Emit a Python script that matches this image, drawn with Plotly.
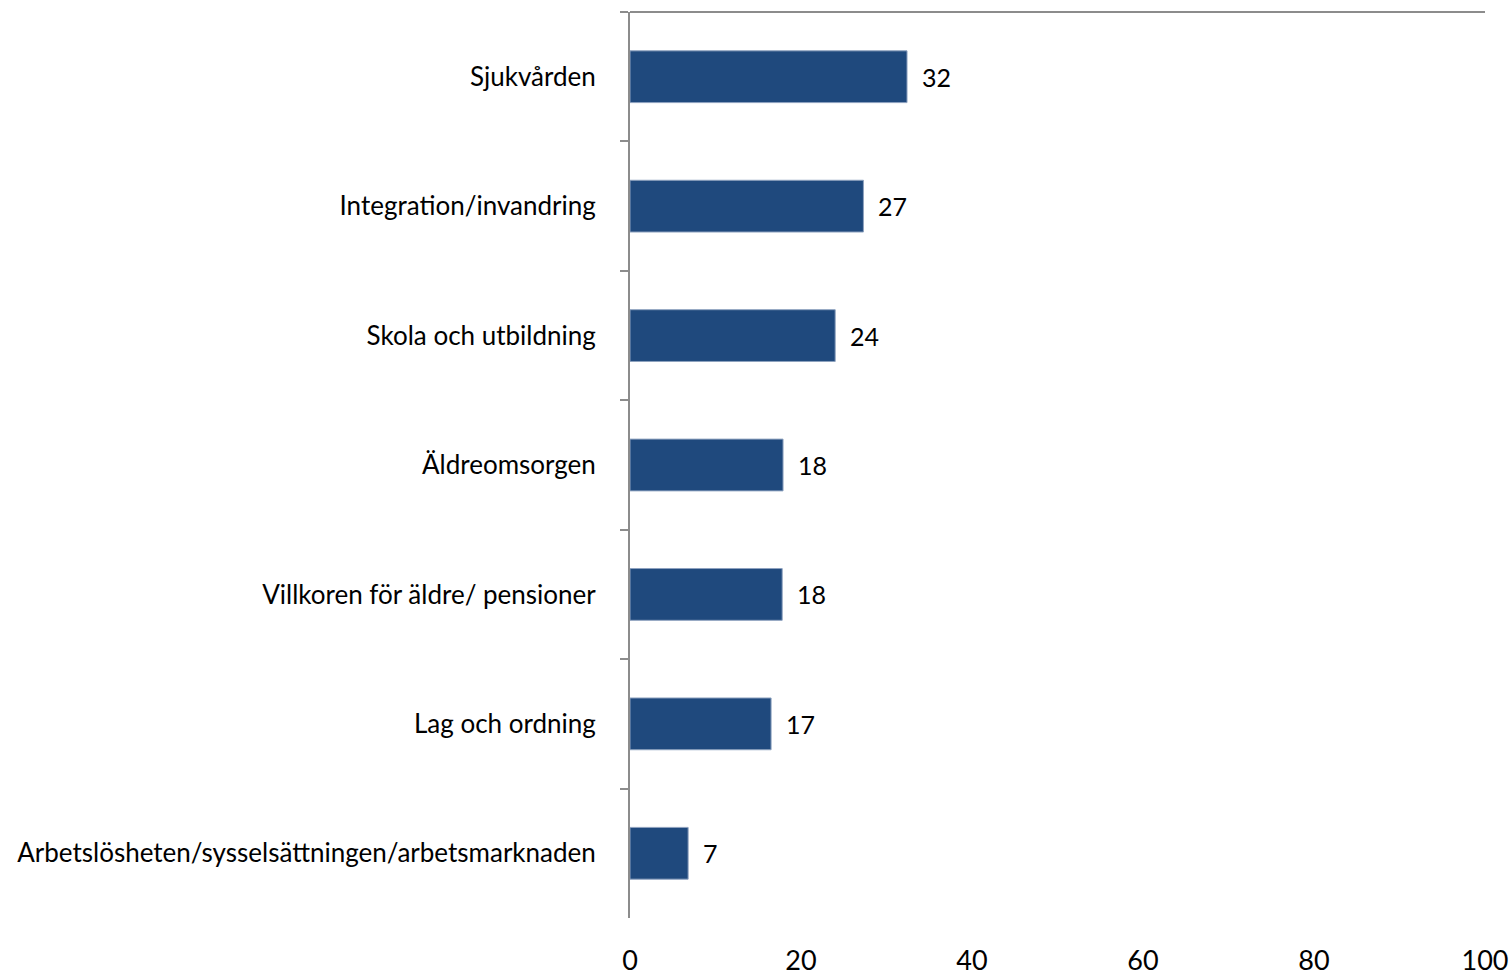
import plotly.graph_objects as go

categories = [
    "Sjukvården",
    "Integration/invandring",
    "Skola och utbildning",
    "Äldreomsorgen",
    "Villkoren för äldre/ pensioner",
    "Lag och ordning",
    "Arbetslösheten/sysselsättningen/arbetsmarknaden",
]
values = [32.4, 27.3, 24.0, 17.9, 17.8, 16.5, 6.8]
value_labels = ["32", "27", "24", "18", "18", "17", "7"]
x_ticks = [0, 20, 40, 60, 80, 100]

FONT = "Lato"
AXIS_GRAY = "#8c8c8c"

fig = go.Figure()
fig.add_trace(go.Bar(
    y=categories,
    x=values,
    orientation="h",
    width=0.4,
    marker=dict(color="#1f497d", line=dict(color="#8ea2bf", width=1)),
    hoverinfo="skip",
))

for c, v, t in zip(categories, values, value_labels):
    fig.add_annotation(x=v, y=c, text=t, showarrow=False, xanchor="left",
                       xshift=13, yshift=0,
                       font=dict(family=FONT, size=25, color="#000000"))

fig.update_layout(
    width=1512, height=976,
    margin=dict(l=630, r=27, t=12, b=58),
    plot_bgcolor="white", paper_bgcolor="white",
    showlegend=False,
    font=dict(family=FONT, size=24, color="#000000"),
    xaxis=dict(
        range=[0, 100], tickvals=x_ticks, ticktext=[str(t) for t in x_ticks],
        showgrid=False, zeroline=False, showline=False, ticks="",
        ticklabelstandoff=24, automargin=False,
        tickfont=dict(family=FONT, size=27, color="#000000"),
    ),
    yaxis=dict(
        type="category", autorange="reversed",
        showgrid=False, zeroline=False,
        showline=True, linecolor=AXIS_GRAY, linewidth=2,
        ticks="outside", tickson="boundaries", ticklen=8,
        tickcolor=AXIS_GRAY, tickwidth=2,
        ticklabelstandoff=27, automargin=False,
        tickfont=dict(family=FONT, size=26, color="#000000"),
    ),
)

fig.add_shape(type="line", xref="x", yref="paper", x0=0, x1=100, y0=1, y1=1,
              line=dict(color=AXIS_GRAY, width=2), layer="below")

# remove the browser's default body margin so the figure fills the window exactly
fig.write_html(
    "out.html",
    config={"displayModeBar": False},
    post_script="document.body.style.margin='0';document.body.style.overflow='hidden';",
)
